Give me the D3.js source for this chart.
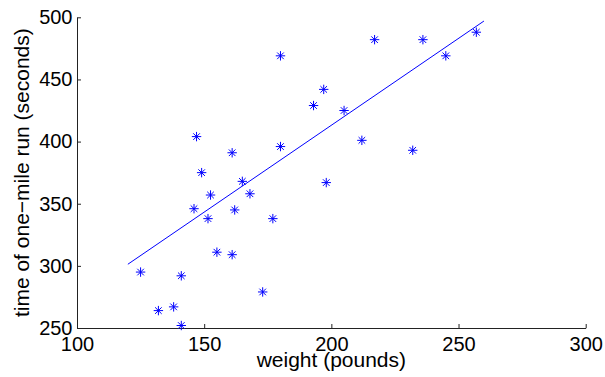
<!DOCTYPE html>
<meta charset="utf-8">
<title>Weight vs one-mile run</title>
<style>
  body { margin: 0; background: #fff; }
  text { font-family: "Liberation Sans", Arial, Helvetica, sans-serif; fill: #000; }
</style>
<body>
<script src="https://d3js.org/d3.v7.min.js"></script>
<script>

// data
var weight = [125, 132, 138, 141, 141, 146, 147, 149, 151.5, 152.5,
              155, 161, 161, 162, 165, 168, 173, 177, 180, 180,
              193, 197, 198, 205, 212, 217, 232, 236, 245, 257];
var runTime = [295, 264, 267, 252, 292, 346, 404, 375, 338, 357,
               311, 309, 391, 345, 368, 358, 279, 338, 469, 396,
               429, 442, 367, 425, 401, 482, 393, 482, 469, 488];

// least-squares line as drawn (end points)
var fitX = [120, 260];
var fitY = [301.3, 497];

var xTicks = [100, 150, 200, 250, 300];
var yTicks = [250, 300, 350, 400, 450, 500];

var width = 605;
var height = 377;

var svg = d3.select("body")
      .append("svg")
      .attr("width", width)
      .attr("height", height);

var x = d3.scaleLinear().domain([100, 300]).range([77, 585.7]);
var y = d3.scaleLinear().domain([250, 500]).range([328, 17.3]);

// axes, ticks point inward
var xAxis = svg.append("g")
  .attr("transform", "translate(0," + y(250) + ")")
  .call(d3.axisBottom(x).tickValues(xTicks).tickSizeInner(-4).tickSizeOuter(0).tickPadding(8.5));

var yAxis = svg.append("g")
  .attr("transform", "translate(" + x(100) + ",0)")
  .call(d3.axisLeft(y).tickValues(yTicks).tickSizeInner(-4).tickSizeOuter(0).tickPadding(4.5));

svg.selectAll(".domain, .tick line").attr("stroke", "#222");
svg.selectAll(".tick text")
  .style("font-size", "20px")
  .style("font-family", "'Liberation Sans', Arial, sans-serif")
  .attr("fill", "#000");

// regression line
var line = d3.line()
  .x(function(d) { return x(d[0]); })
  .y(function(d) { return y(d[1]); });

svg.append("path")
  .datum(d3.zip(fitX, fitY))
  .attr("d", line)
  .attr("fill", "none")
  .attr("stroke", "#0000ff")
  .attr("stroke-width", 1);

// star markers
var r = 4.7, q = 3.3;
var star = "M" + (-r) + ",0H" + r + "M0," + (-r) + "V" + r +
           "M" + (-q) + "," + (-q) + "L" + q + "," + q +
           "M" + (-q) + "," + q + "L" + q + "," + (-q);

svg.append("g")
  .selectAll("path")
  .data(d3.zip(weight, runTime))
  .join("path")
  .attr("transform", function(d) { return "translate(" + x(d[0]) + "," + y(d[1]) + ")"; })
  .attr("d", star)
  .attr("fill", "none")
  .attr("stroke", "#0000ff")
  .attr("stroke-width", 1);

// axis titles
svg.append("text")
  .attr("x", x(200))
  .attr("y", 366.5)
  .attr("text-anchor", "middle")
  .style("font-size", "21px")
  .text("weight (pounds)");

svg.append("text")
  .attr("transform", "translate(29," + y(375) + ") rotate(-90)")
  .attr("text-anchor", "middle")
  .style("font-size", "21px")
  .text("time of one−mile run (seconds)");

</script>
